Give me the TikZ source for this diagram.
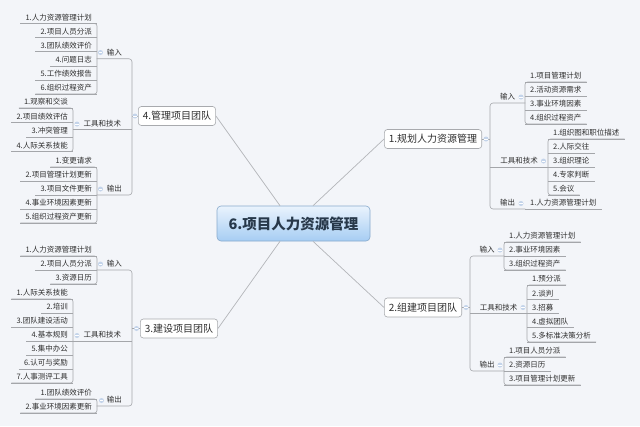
\documentclass[tikz,border=0pt]{standalone}
\usepackage{fontspec}
\setmainfont{Noto Sans CJK SC}
\definecolor{bgc}{HTML}{F3F5F9}
\definecolor{lncol}{HTML}{A4A6AA}
\definecolor{cncol}{HTML}{B4B6BA}
\definecolor{txt}{HTML}{2E2E2E}
\definecolor{foldc}{HTML}{C4D4EA}
\definecolor{boxd}{HTML}{A8AAAE}
\definecolor{ctop}{HTML}{EAF3FD}
\definecolor{cbot}{HTML}{A6CDF3}
\definecolor{cdraw}{HTML}{88AACC}
\definecolor{ctxt}{HTML}{27384A}
\newcommand\mkgroup[6]{%
  \foreach \t [count=\k] in {#6} {\node[#2] (#1\k) at (#3,{#4+#5*(\k-1)}) {\t};}%
}
\newcommand\brkL[2]{%
  \draw[ln,rounded corners=2.5pt] (#11.south west) -- (#11.south east) -- (#1#2.south east) -- (#1#2.south west);
  \foreach \k in {1,...,#2} {\draw[ln] (#1\k.south west) -- (#1\k.south east);}%
}
\newcommand\brkR[2]{%
  \draw[ln,rounded corners=2.5pt] (#11.south east) -- (#11.south west) -- (#1#2.south west) -- (#1#2.south east);
  \foreach \k in {1,...,#2} {\draw[ln] (#1\k.south west) -- (#1\k.south east);}%
}
\begin{document}
\begin{tikzpicture}[x=1pt,y=-1pt,
  ln/.style={draw=lncol,line width=0.6pt},
  cl/.style={draw=cncol,line width=0.7pt},
  leafL/.style={anchor=south east,font=\fontsize{7.5}{9}\selectfont,text=txt,inner xsep=5pt,inner ysep=1.5pt,text height=6pt,text depth=1.5pt},
  leafR/.style={leafL,anchor=south west},
  branch/.style={draw=boxd,fill=white,rounded corners=3pt,font=\fontsize{10}{12}\selectfont,text=txt,inner xsep=4.5pt,minimum height=19pt,line width=0.6pt},
  hub/.style={draw=cdraw,top color=ctop,bottom color=cbot,rounded corners=4pt,font=\fontsize{14.5}{16}\selectfont\bfseries,text=ctxt,minimum width=153pt,minimum height=35pt,line width=0.6pt},
  fold/.style={circle,fill=foldc,inner sep=0pt,minimum size=5pt,path picture={\draw[white,line width=0.6pt] ([xshift=-1.6pt]path picture bounding box.center) -- ([xshift=1.6pt]path picture bounding box.center);}}
]
\fill[bgc] (0,0) rectangle (640,426);
\useasboundingbox (0,0) rectangle (640,426);

% ---------- centre ----------
\node[hub] (c) at (293.5,223.5) {6.项目人力资源管理};

% ---------- branch boxes ----------
\node[branch,anchor=west] (b4) at (138,116) {4.管理项目团队};
\node[branch,anchor=west] (b3) at (140,328.5) {3.建设项目团队};
\node[branch,anchor=east] (b1) at (482,139) {1.规划人力资源管理};
\node[branch,anchor=east] (b2) at (462,307.5) {2.组建项目团队};

\draw[cl] ([xshift=-13.5pt]c.north) -- (b4.east);
\draw[cl] ([xshift=19.5pt]c.north) -- (b1.west);
\draw[cl] ([xshift=-13.5pt]c.south) -- (b3.east);
\draw[cl] ([xshift=19.5pt]c.south) -- (b2.west);

% ---------- group 4 (top left) ----------
\mkgroup{pa}{leafL}{97}{23.5}{14.1}{1.人力资源管理计划,2.项目人员分派,3.团队绩效评价,4.问题日志,5.工作绩效报告,6.组织过程资产}
\brkL{pa}{6}
\mkgroup{pb}{leafL}{73}{108}{14.5}{1.观察和交谈,2.项目绩效评估,3.冲突管理,4.人际关系技能}
\brkL{pb}{4}
\mkgroup{pc}{leafL}{97}{167}{14}{1.变更请求,2.项目管理计划更新,3.项目文件更新,4.事业环境因素更新,5.组织过程资产更新}
\brkL{pc}{5}
\node[leafL,minimum width=35pt] (pin) at (132,58.75) {输入};
\node[leafL,minimum width=59pt] (ptt) at (132,129.75) {工具和技术};
\node[leafL,minimum width=35pt] (pout) at (132,195) {输出};
\draw[ln,rounded corners=3pt] (pin.south west) -- (pin.south east) -- (pout.south east) -- (pout.south west);
\draw[ln] (ptt.south west) -- (ptt.south east);
\draw[ln] (b4.west) -- (b4.west -| pin.south east);

% ---------- group 3 (bottom left) ----------
\mkgroup{qa}{leafL}{97}{256}{14}{1.人力资源管理计划,2.项目人员分派,3.资源日历}
\brkL{qa}{3}
\mkgroup{qb}{leafL}{73}{299}{14}{1.人际关系技能,2.培训,3.团队建设活动,4.基本规则,5.集中办公,6.认可与奖励,7.人事测评工具}
\brkL{qb}{7}
\mkgroup{qc}{leafL}{97}{399}{14}{1.团队绩效评价,2.事业环境因素更新}
\brkL{qc}{2}
\node[leafL,minimum width=35pt] (qin) at (132,270) {输入};
\node[leafL,minimum width=59pt] (qtt) at (132,341) {工具和技术};
\node[leafL,minimum width=35pt] (qout) at (132,406) {输出};
\draw[ln,rounded corners=3pt] (qin.south west) -- (qin.south east) -- (qout.south east) -- (qout.south west);
\draw[ln] (qtt.south west) -- (qtt.south east);
\draw[ln] (b3.west) -- (b3.west -| qin.south east);

% ---------- group 1 (top right) ----------
\mkgroup{ra}{leafR}{525}{82}{14}{1.项目管理计划,2.活动资源需求,3.事业环境因素,4.组织过程资产}
\brkR{ra}{4}
\mkgroup{rb}{leafR}{548}{139}{14}{1.组织图和职位描述,2.人际交往,3.组织理论,4.专家判断,5.会议}
\brkR{rb}{5}
\node[leafR] (rc1) at (525,209) {1.人力资源管理计划};
\draw[ln] (rc1.south west) -- (rc1.south east);
\node[leafR,minimum width=35pt] (rin) at (490,103) {输入};
\node[leafR,minimum width=58pt] (rtt) at (490,167) {工具和技术};
\node[leafR,minimum width=35pt] (rout) at (490,209) {输出};
\draw[ln,rounded corners=3pt] (rin.south east) -- (rin.south west) -- (rout.south west) -- (rout.south east);
\draw[ln] (rtt.south west) -- (rtt.south east);
\draw[ln] (b1.east) -- (b1.east -| rin.south west);

% ---------- group 2 (bottom right) ----------
\mkgroup{sa}{leafR}{504}{242}{14}{1.人力资源管理计划,2.事业环境因素,3.组织过程资产}
\brkR{sa}{3}
\mkgroup{sb}{leafR}{527}{285}{14.25}{1.预分派,2.谈判,3.招募,4.虚拟团队,5.多标准决策分析}
\brkR{sb}{5}
\mkgroup{sc}{leafR}{504}{357}{14}{1.项目人员分派,2.资源日历,3.项目管理计划更新}
\brkR{sc}{3}
\node[leafR,minimum width=34pt] (sin) at (470,256) {输入};
\node[leafR,minimum width=57pt] (stt) at (470,313.5) {工具和技术};
\node[leafR,minimum width=34pt] (sout) at (470,371) {输出};
\draw[ln,rounded corners=3pt] (sin.south east) -- (sin.south west) -- (sout.south west) -- (sout.south east);
\draw[ln] (stt.south west) -- (stt.south east);
\draw[ln] (b2.east) -- (b2.east -| sin.south west);

% ---------- fold icons ----------
\node[fold] (f4) at (135,116) {};
\node[fold] (f4a) at (100.5,52.5) {};
\node[fold] (f4b) at (77,124) {};
\node[fold] (f4c) at (100.5,189) {};
\node[fold] (f3) at (136.5,328.5) {};
\node[fold] (f3a) at (100.5,264) {};
\node[fold] (f3b) at (77,335.5) {};
\node[fold] (f3c) at (101.5,400.5) {};
\node[fold] (f1) at (486,139) {};
\node[fold] (f1a) at (521,97) {};
\node[fold] (f1b) at (543.5,161) {};
\node[fold] (f1c) at (521,203.5) {};
\node[fold] (f2) at (466,307.5) {};
\node[fold] (f2a) at (500,250) {};
\node[fold] (f2b) at (523,307.5) {};
\node[fold] (f2c) at (500,365) {};
\end{tikzpicture}
\end{document}
